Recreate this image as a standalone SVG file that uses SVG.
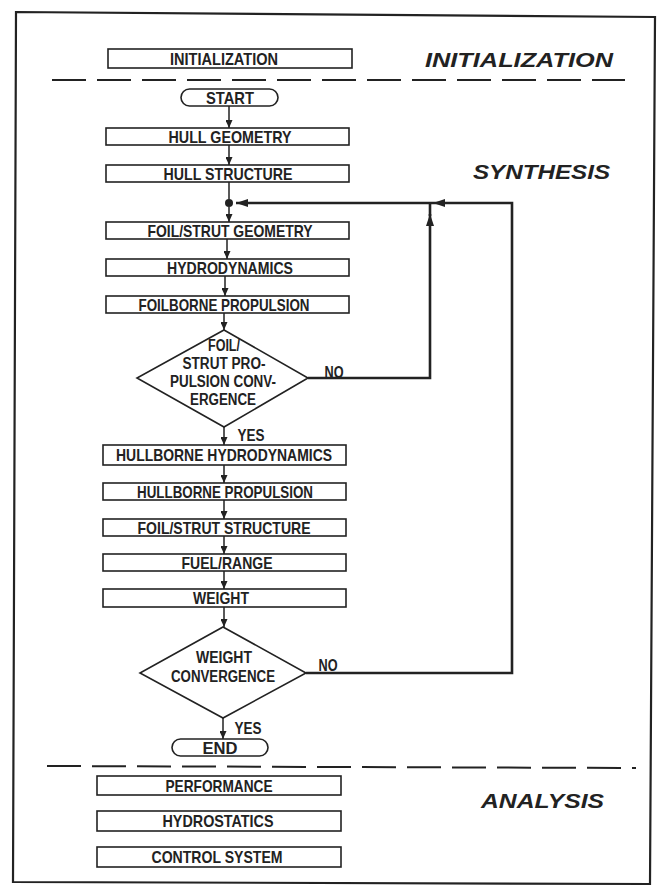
<svg xmlns="http://www.w3.org/2000/svg" width="665" height="888" viewBox="0 0 665 888">
<style>
.box{fill:#fff;stroke:#222;stroke-width:1.6}
.t{font-family:"Liberation Sans",Arial,sans-serif;font-weight:bold;font-size:17px;fill:#222;text-anchor:middle}
.d{font-size:16px}
.h{font-family:"Liberation Sans",Arial,sans-serif;font-weight:bold;font-style:italic;font-size:20px;fill:#222}
.ln{fill:none;stroke:#222;stroke-width:1.5}
.lp{fill:none;stroke:#222;stroke-width:2.6}
.dash{fill:none;stroke:#222;stroke-width:2;stroke-dasharray:34 11}
</style>
<defs>
<marker id="a" markerWidth="8" markerHeight="7" refX="8" refY="3.5" orient="auto" markerUnits="userSpaceOnUse"><path d="M0,0 L8,3.5 L0,7 z" fill="#222"/></marker>
<marker id="b" markerWidth="12" markerHeight="8" refX="12" refY="4" orient="auto" markerUnits="userSpaceOnUse"><path d="M0,0 L12,4 L0,8 z" fill="#222"/></marker>
</defs>
<rect width="665" height="888" fill="#fff"/>
<polygon points="16,12 655,17 650,884 13,882" fill="none" stroke="#222" stroke-width="2.2"/>
<line class="dash" x1="52" y1="80" x2="625" y2="80"/>
<line class="dash" x1="47" y1="766" x2="636" y2="768"/>
<text class="h" x="425" y="67" textLength="188" lengthAdjust="spacingAndGlyphs">INITIALIZATION</text>
<text class="h" x="473" y="179" textLength="137" lengthAdjust="spacingAndGlyphs">SYNTHESIS</text>
<text class="h" x="481" y="808" textLength="123" lengthAdjust="spacingAndGlyphs">ANALYSIS</text>

<g id="initialization"><rect class="box" x="108" y="49" width="244" height="19"/><text class="t" x="224" y="64.5" textLength="108" lengthAdjust="spacingAndGlyphs">INITIALIZATION</text></g>
<g id="start"><rect class="box" x="181" y="89" width="97" height="17" rx="8.5"/><text class="t" x="230" y="103.5" textLength="48" lengthAdjust="spacingAndGlyphs">START</text></g>
<g id="hull-geometry"><rect class="box" x="106" y="128" width="243" height="17"/><text class="t" x="230" y="142.5" textLength="123" lengthAdjust="spacingAndGlyphs">HULL GEOMETRY</text></g>
<g id="hull-structure"><rect class="box" x="106" y="165" width="243" height="17"/><text class="t" x="228" y="179.5" textLength="129" lengthAdjust="spacingAndGlyphs">HULL STRUCTURE</text></g>
<g id="foil-strut-geometry"><rect class="box" x="106" y="222" width="243" height="17"/><text class="t" x="230" y="236.5" textLength="165" lengthAdjust="spacingAndGlyphs">FOIL/STRUT GEOMETRY</text></g>
<g id="hydrodynamics"><rect class="box" x="106" y="259" width="243" height="17"/><text class="t" x="230" y="273.5" textLength="126" lengthAdjust="spacingAndGlyphs">HYDRODYNAMICS</text></g>
<g id="foilborne-propulsion"><rect class="box" x="106" y="296" width="243" height="17"/><text class="t" x="224" y="310.5" textLength="171" lengthAdjust="spacingAndGlyphs">FOILBORNE PROPULSION</text></g>
<g id="foil-convergence"><polygon class="box" points="224,330 308,378 224,427 137,378"/>
<text class="t d" x="224" y="351" textLength="32" lengthAdjust="spacingAndGlyphs">FOIL/</text>
<text class="t d" x="224" y="369" textLength="83" lengthAdjust="spacingAndGlyphs">STRUT PRO-</text>
<text class="t d" x="223" y="387" textLength="106" lengthAdjust="spacingAndGlyphs">PULSION CONV-</text>
<text class="t d" x="223" y="405" textLength="66" lengthAdjust="spacingAndGlyphs">ERGENCE</text></g>
<g id="hullborne-hydrodynamics"><rect class="box" x="103" y="445" width="243" height="20"/><text class="t" x="224" y="461" textLength="216" lengthAdjust="spacingAndGlyphs">HULLBORNE HYDRODYNAMICS</text></g>
<g id="hullborne-propulsion"><rect class="box" x="103" y="483" width="243" height="17"/><text class="t" x="225" y="497.5" textLength="176" lengthAdjust="spacingAndGlyphs">HULLBORNE PROPULSION</text></g>
<g id="foil-strut-structure"><rect class="box" x="103" y="519" width="243" height="17"/><text class="t" x="224" y="533.5" textLength="173" lengthAdjust="spacingAndGlyphs">FOIL/STRUT STRUCTURE</text></g>
<g id="fuel-range"><rect class="box" x="103" y="554" width="243" height="17"/><text class="t" x="227" y="568.5" textLength="91" lengthAdjust="spacingAndGlyphs">FUEL/RANGE</text></g>
<g id="weight"><rect class="box" x="103" y="589" width="243" height="18"/><text class="t" x="221" y="604" textLength="56" lengthAdjust="spacingAndGlyphs">WEIGHT</text></g>
<g id="weight-convergence"><polygon class="box" points="223,627 306,673 223,718 140,673"/>
<text class="t d" x="224" y="663" textLength="56" lengthAdjust="spacingAndGlyphs">WEIGHT</text>
<text class="t d" x="223" y="681.5" textLength="104" lengthAdjust="spacingAndGlyphs">CONVERGENCE</text></g>
<g id="end"><rect class="box" x="172" y="739" width="96" height="17" rx="8.5"/><text class="t" x="220" y="753.5" textLength="35" lengthAdjust="spacingAndGlyphs">END</text></g>
<g id="performance"><rect class="box" x="97" y="776" width="244" height="19"/><text class="t" x="219" y="791.5" textLength="107" lengthAdjust="spacingAndGlyphs">PERFORMANCE</text></g>
<g id="hydrostatics"><rect class="box" x="97" y="811" width="244" height="20"/><text class="t" x="218" y="827" textLength="111" lengthAdjust="spacingAndGlyphs">HYDROSTATICS</text></g>
<g id="control-system"><rect class="box" x="97" y="847" width="244" height="20"/><text class="t" x="217" y="863" textLength="131" lengthAdjust="spacingAndGlyphs">CONTROL SYSTEM</text></g>

<g id="connectors">
<path class="ln" d="M229,106 V128" marker-end="url(#a)"/>
<path class="ln" d="M229,145 V165" marker-end="url(#a)"/>
<path class="ln" d="M229,182 V199"/>
<circle cx="229" cy="203" r="4" fill="#222"/>
<path class="ln" d="M229,207 V222" marker-end="url(#a)"/>
<path class="ln" d="M227,239 V259" marker-end="url(#a)"/>
<path class="ln" d="M225,276 V296" marker-end="url(#a)"/>
<path class="ln" d="M224,313 V330" marker-end="url(#a)"/>
<path class="ln" d="M224,427 V445" marker-end="url(#a)"/>
<path class="ln" d="M224,465 V483" marker-end="url(#a)"/>
<path class="ln" d="M224,500 V519" marker-end="url(#a)"/>
<path class="ln" d="M224,536 V554" marker-end="url(#a)"/>
<path class="ln" d="M224,571 V589" marker-end="url(#a)"/>
<path class="ln" d="M224,607 V627" marker-end="url(#a)"/>
<path class="ln" d="M223,718 V739" marker-end="url(#a)"/>
<path class="lp" d="M308,378 H430 V214" marker-end="url(#b)"/>
<path class="lp" d="M430,216 V203"/>
<path class="lp" d="M306,673 H512 V203 H433" marker-end="url(#b)"/>
<path class="lp" d="M433,203 H236" marker-end="url(#b)"/>
<text class="t d" x="334" y="378" textLength="19" lengthAdjust="spacingAndGlyphs">NO</text>
<text class="t d" x="251" y="441" textLength="27" lengthAdjust="spacingAndGlyphs">YES</text>
<text class="t d" x="328" y="671" textLength="19" lengthAdjust="spacingAndGlyphs">NO</text>
<text class="t d" x="248" y="734" textLength="27" lengthAdjust="spacingAndGlyphs">YES</text>
</g>
</svg>
